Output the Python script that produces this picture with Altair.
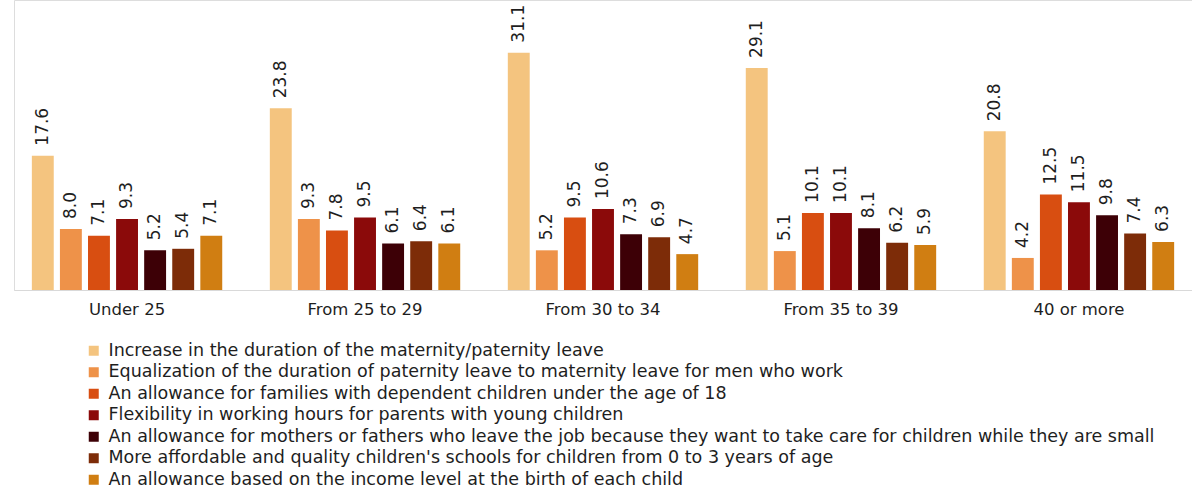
import altair as alt
import pandas as pd

groups = ["Under 25", "From 25 to 29", "From 30 to 34", "From 35 to 39", "40 or more"]
series = [
    "Increase in the duration of the maternity/paternity leave",
    "Equalization of the duration of paternity leave to maternity leave for men who work",
    "An allowance for families with dependent children under the age of 18",
    "Flexibility in working hours for parents with young children",
    "An allowance for mothers or fathers who leave the job because they want to take care for children while they are small",
    "More affordable and quality children's schools for children from 0 to 3 years of age",
    "An allowance based on the income level at the birth of each child",
]
colors = ["#F4C47F", "#EE9249", "#D84E11", "#8B0A0A", "#3D0006", "#7D2C08", "#D07E12"]
values = [
    [17.6, 23.8, 31.1, 29.1, 20.8],
    [8.0, 9.3, 5.2, 5.1, 4.2],
    [7.1, 7.8, 9.5, 10.1, 12.5],
    [9.3, 9.5, 10.6, 10.1, 11.5],
    [5.2, 6.1, 7.3, 8.1, 9.8],
    [5.4, 6.4, 6.9, 6.2, 7.4],
    [7.1, 6.1, 4.7, 5.9, 6.3],
]

rows = []
for si, s in enumerate(series):
    for gi, g in enumerate(groups):
        rows.append({"group": g, "series": s, "value": values[si][gi],
                     "label": f"{values[si][gi]:.1f}"})
df = pd.DataFrame(rows)

font = "DejaVu Sans"
txt = "#1E1E1E"

x = alt.X("group:N", sort=groups, title=None,
          scale=alt.Scale(paddingInner=0.2, paddingOuter=0.075),
          axis=alt.Axis(labelAngle=0, labelFontSize=16.5, labelColor=txt,
                        labelFont=font, ticks=False, domainColor="#D9D9D9",
                        labelPadding=11, domainWidth=1))
xo = alt.XOffset("series:N", sort=series, scale=alt.Scale(paddingInner=0.22))
y = alt.Y("value:Q", scale=alt.Scale(domain=[0, 38]), axis=None)

base = alt.Chart(df).encode(x=x, xOffset=xo, y=y)

bars = base.mark_bar().encode(
    color=alt.Color("series:N", sort=series,
                    scale=alt.Scale(domain=series, range=colors),
                    legend=alt.Legend(title=None, orient="none", legendX=71, legendY=342,
                                      symbolType="square", symbolSize=100,
                                      labelFontSize=17.5, labelFont=font,
                                      labelColor=txt, labelLimit=0, labelOffset=6,
                                      rowPadding=2.5, symbolStrokeWidth=0))
)

labels = base.mark_text(angle=270, align="left", baseline="middle", dx=10,
                        fontSize=17, font=font, color=txt).encode(text="label:N")

chart = (bars + labels).properties(width=1178, height=290,
                                   padding={"left": 14, "top": 0, "right": 0, "bottom": 203}) \
    .configure_view(strokeWidth=0) \
    .configure(autosize=alt.AutoSizeParams(type="none"))

chart.save("out.html", embed_options={"renderer": "svg", "actions": False})
